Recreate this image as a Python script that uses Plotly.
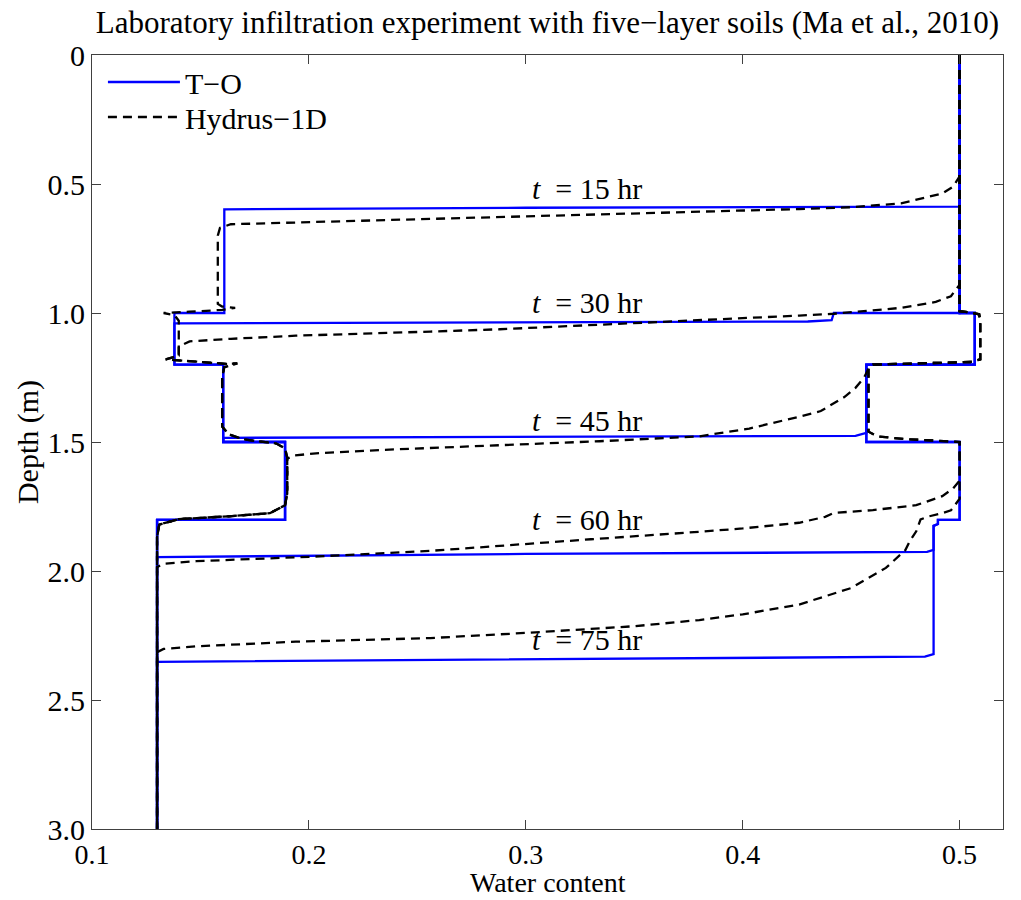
import plotly.graph_objects as go

# ---------------- data (water content theta, depth in m) ----------------
TIMES = ["15", "30", "45", "60", "75"]

# T-O model profiles
TO_15_THETA = [0.5, 0.5, 0.3, 0.161, 0.161, 0.138, 0.138, 0.1605, 0.1605, 0.189, 0.189, 0.13, 0.13]
TO_15_DEPTH = [0.0, 0.588, 0.592, 0.598, 1.0, 1.0, 1.2, 1.2, 1.5, 1.5, 1.802, 1.802, 3.0]

TO_30_THETA = [0.5, 0.5, 0.442, 0.441, 0.43, 0.3, 0.14, 0.138, 0.138, 0.1605, 0.1605, 0.189, 0.189, 0.13, 0.13]
TO_30_DEPTH = [0.0, 1.0, 1.0, 1.028, 1.033, 1.036, 1.04, 1.04, 1.2, 1.2, 1.5, 1.5, 1.802, 1.802, 3.0]

TO_45_THETA = [0.5, 0.5, 0.507, 0.507, 0.457, 0.457, 0.452, 0.3, 0.161, 0.1605, 0.1605, 0.189, 0.189, 0.13, 0.13]
TO_45_DEPTH = [0.0, 1.0, 1.0, 1.2, 1.2, 1.465, 1.476, 1.479, 1.484, 1.49, 1.5, 1.5, 1.802, 1.802, 3.0]

TO_60_THETA = [0.5, 0.5, 0.507, 0.507, 0.457, 0.457, 0.5, 0.5, 0.49, 0.49, 0.488, 0.488, 0.485, 0.3, 0.13, 0.13]
TO_60_DEPTH = [0.0, 1.0, 1.0, 1.2, 1.2, 1.5, 1.5, 1.802, 1.802, 1.818, 1.825, 1.918, 1.926, 1.934, 1.946, 3.0]

TO_75_THETA = [0.5, 0.5, 0.507, 0.507, 0.457, 0.457, 0.5, 0.5, 0.49, 0.49, 0.488, 0.488, 0.484, 0.3, 0.13, 0.13]
TO_75_DEPTH = [0.0, 1.0, 1.0, 1.2, 1.2, 1.5, 1.5, 1.802, 1.802, 1.818, 1.825, 2.322, 2.332, 2.342, 2.352, 3.0]

# Hydrus-1D profiles
HY_15_THETA = [0.5, 0.5, 0.497, 0.492, 0.473, 0.45, 0.426, 0.35, 0.288, 0.256, 0.2, 0.164, 0.159, 0.158,
               0.158, 0.16, 0.166, 0.16, 0.145, 0.133, 0.138, 0.14, 0.14, 0.134, 0.15, 0.162, 0.167, 0.161,
               0.16, 0.16, 0.163, 0.17, 0.185, 0.189, 0.19, 0.19, 0.189, 0.182, 0.163, 0.14, 0.131, 0.13, 0.13]
HY_15_DEPTH = [0.0, 0.47, 0.51, 0.537, 0.575, 0.59, 0.597, 0.614, 0.628, 0.636, 0.647, 0.656, 0.67, 0.7,
               0.965, 0.975, 0.98, 0.988, 0.995, 1.0, 1.008, 1.03, 1.165, 1.18, 1.19, 1.197, 1.195, 1.21,
               1.25, 1.44, 1.47, 1.49, 1.506, 1.525, 1.56, 1.7, 1.745, 1.776, 1.788, 1.799, 1.82, 1.87, 3.0]

HY_30_THETA = [0.5, 0.5, 0.496, 0.489, 0.473, 0.458, 0.442, 0.426, 0.365, 0.334, 0.288, 0.256, 0.194, 0.164,
               0.145, 0.14, 0.14, 0.134, 0.15, 0.162, 0.167, 0.161, 0.16, 0.16, 0.163, 0.17, 0.185, 0.189,
               0.19, 0.19, 0.189, 0.182, 0.163, 0.14, 0.131, 0.13, 0.13]
HY_30_DEPTH = [0.0, 0.89, 0.935, 0.957, 0.98, 0.992, 1.003, 1.01, 1.033, 1.047, 1.063, 1.072, 1.088, 1.1,
               1.11, 1.13, 1.165, 1.18, 1.19, 1.197, 1.195, 1.21, 1.25, 1.44, 1.47, 1.49, 1.506, 1.525,
               1.56, 1.7, 1.745, 1.776, 1.788, 1.799, 1.82, 1.87, 3.0]

HY_45_THETA = [0.5, 0.5, 0.505, 0.509, 0.5095, 0.5095, 0.505, 0.47, 0.46, 0.458, 0.456, 0.452, 0.447, 0.436,
               0.426, 0.403, 0.38, 0.334, 0.288, 0.233, 0.205, 0.193, 0.19, 0.19, 0.189, 0.182, 0.163,
               0.14, 0.131, 0.13, 0.13]
HY_45_DEPTH = [0.0, 0.993, 0.998, 1.005, 1.03, 1.18, 1.19, 1.196, 1.2, 1.215, 1.25, 1.29, 1.325, 1.38,
               1.402, 1.448, 1.478, 1.497, 1.512, 1.531, 1.543, 1.552, 1.565, 1.7, 1.745, 1.776, 1.788,
               1.799, 1.82, 1.87, 3.0]

HY_60_THETA = [0.5, 0.5, 0.505, 0.509, 0.5095, 0.5095, 0.505, 0.47, 0.46, 0.458, 0.458, 0.462, 0.475, 0.49,
               0.5, 0.5, 0.497, 0.492, 0.48, 0.46, 0.442, 0.438, 0.426, 0.4, 0.38, 0.33, 0.3, 0.256, 0.2,
               0.148, 0.133, 0.13, 0.13]
HY_60_DEPTH = [0.0, 0.993, 0.998, 1.005, 1.03, 1.18, 1.19, 1.196, 1.2, 1.215, 1.46, 1.478, 1.489, 1.495,
               1.5, 1.65, 1.68, 1.71, 1.745, 1.764, 1.775, 1.79, 1.813, 1.835, 1.848, 1.877, 1.895, 1.922,
               1.945, 1.962, 1.972, 1.985, 3.0]

HY_75_THETA = [0.5, 0.5, 0.505, 0.509, 0.5095, 0.5095, 0.505, 0.47, 0.46, 0.458, 0.458, 0.462, 0.475, 0.49,
               0.5, 0.5, 0.496, 0.492, 0.486, 0.482, 0.481, 0.48, 0.477, 0.475, 0.466, 0.45, 0.426, 0.4,
               0.38, 0.35, 0.3, 0.256, 0.194, 0.148, 0.133, 0.13, 0.13]
HY_75_DEPTH = [0.0, 0.993, 0.998, 1.005, 1.03, 1.18, 1.19, 1.196, 1.2, 1.215, 1.46, 1.478, 1.489, 1.495,
               1.5, 1.72, 1.765, 1.776, 1.788, 1.8, 1.82, 1.846, 1.885, 1.919, 1.988, 2.066, 2.13, 2.168,
               2.19, 2.214, 2.24, 2.26, 2.274, 2.292, 2.302, 2.315, 3.0]

# label positions (theta, depth)
LABEL_THETA = [0.302, 0.302, 0.302, 0.302, 0.302]
LABEL_DEPTH = [0.517, 0.958, 1.417, 1.80, 2.266]

X_TICKS = [0.1, 0.2, 0.3, 0.4, 0.5]
X_TICKTEXT = ["0.1", "0.2", "0.3", "0.4", "0.5"]
Y_TICKS = [0, 0.5, 1.0, 1.5, 2.0, 2.5, 3.0]
Y_TICKTEXT = ["0", "0.5", "1.0", "1.5", "2.0", "2.5", "3.0"]

TO_SERIES = [(TO_15_THETA, TO_15_DEPTH), (TO_30_THETA, TO_30_DEPTH), (TO_45_THETA, TO_45_DEPTH),
             (TO_60_THETA, TO_60_DEPTH), (TO_75_THETA, TO_75_DEPTH)]
HY_SERIES = [(HY_15_THETA, HY_15_DEPTH), (HY_30_THETA, HY_30_DEPTH), (HY_45_THETA, HY_45_DEPTH),
             (HY_60_THETA, HY_60_DEPTH), (HY_75_THETA, HY_75_DEPTH)]

FONT = "Liberation Serif, Times New Roman, serif"
FS = 30
TOP, BOTTOM = 55, 829          # plot-area pixel edges
PLOT_H = BOTTOM - TOP

fig = go.Figure()
for i, (th, d) in enumerate(TO_SERIES):
    fig.add_trace(go.Scatter(x=th, y=d, mode="lines", name="T\u2212O",
                             line=dict(color="#0000ff", width=2.3),
                             legend="legend", showlegend=(i == 0)))
for i, (th, d) in enumerate(HY_SERIES):
    fig.add_trace(go.Scatter(x=th, y=d, mode="lines", name="Hydrus\u22121D",
                             line=dict(color="#000000", width=2.3, dash="9px,6px"),
                             legend="legend2", showlegend=(i == 0)))

for t, lx, ly in zip(TIMES, LABEL_THETA, LABEL_DEPTH):
    fig.add_annotation(x=lx, y=ly, xref="x", yref="y", xanchor="left", yanchor="middle",
                       text="<i>t</i>\u00a0\u00a0= " + t + " hr", showarrow=False,
                       font=dict(family=FONT, size=FS, color="#000000"))

# x-axis title placed just under the tick labels, kept inside the figure
fig.add_annotation(x=0.5, y=-(900 - BOTTOM) / PLOT_H, xref="paper", yref="paper",
                   xanchor="center", yanchor="bottom", text="Water content", showarrow=False,
                   font=dict(family=FONT, size=28, color="#000000"))

axis_common = dict(showline=True, linecolor="#404040", linewidth=1, mirror="allticks",
                   ticks="inside", ticklen=9, tickcolor="#404040", showgrid=False, zeroline=False,
                   automargin=False)

legend_common = dict(xanchor="left", yanchor="middle", bgcolor="rgba(0,0,0,0)", borderwidth=0,
                     font=dict(family=FONT, size=FS, color="#000000"), itemwidth=72)

fig.update_layout(
    width=1021, height=900,
    margin=dict(l=92, r=18, t=TOP, b=900 - BOTTOM, autoexpand=False),
    paper_bgcolor="white", plot_bgcolor="white",
    title=dict(text="Laboratory infiltration experiment with five\u2212layer soils (Ma et al., 2010)",
               font=dict(family=FONT, size=31, color="#000000"), automargin=False,
               x=0.5, xref="paper", xanchor="center", y=1 - 22 / 900, yref="container", yanchor="middle"),
    xaxis=dict(range=[0.1, 0.52], tickvals=X_TICKS, ticktext=X_TICKTEXT,
               tickfont=dict(family=FONT, size=28, color="#000000"), **axis_common),
    yaxis=dict(range=[3.0, 0.0], tickvals=Y_TICKS, ticktext=Y_TICKTEXT,
               tickfont=dict(family=FONT, size=FS, color="#000000"),
               title=dict(text="Depth (m)", font=dict(family=FONT, size=FS, color="#000000"), standoff=0),
               **axis_common),
    legend=dict(x=0.012, y=1 - (82 - TOP) / PLOT_H, **legend_common),
    legend2=dict(x=0.012, y=1 - (117 - TOP) / PLOT_H, **legend_common),
    showlegend=True,
)

fig.write_html("out.html")
